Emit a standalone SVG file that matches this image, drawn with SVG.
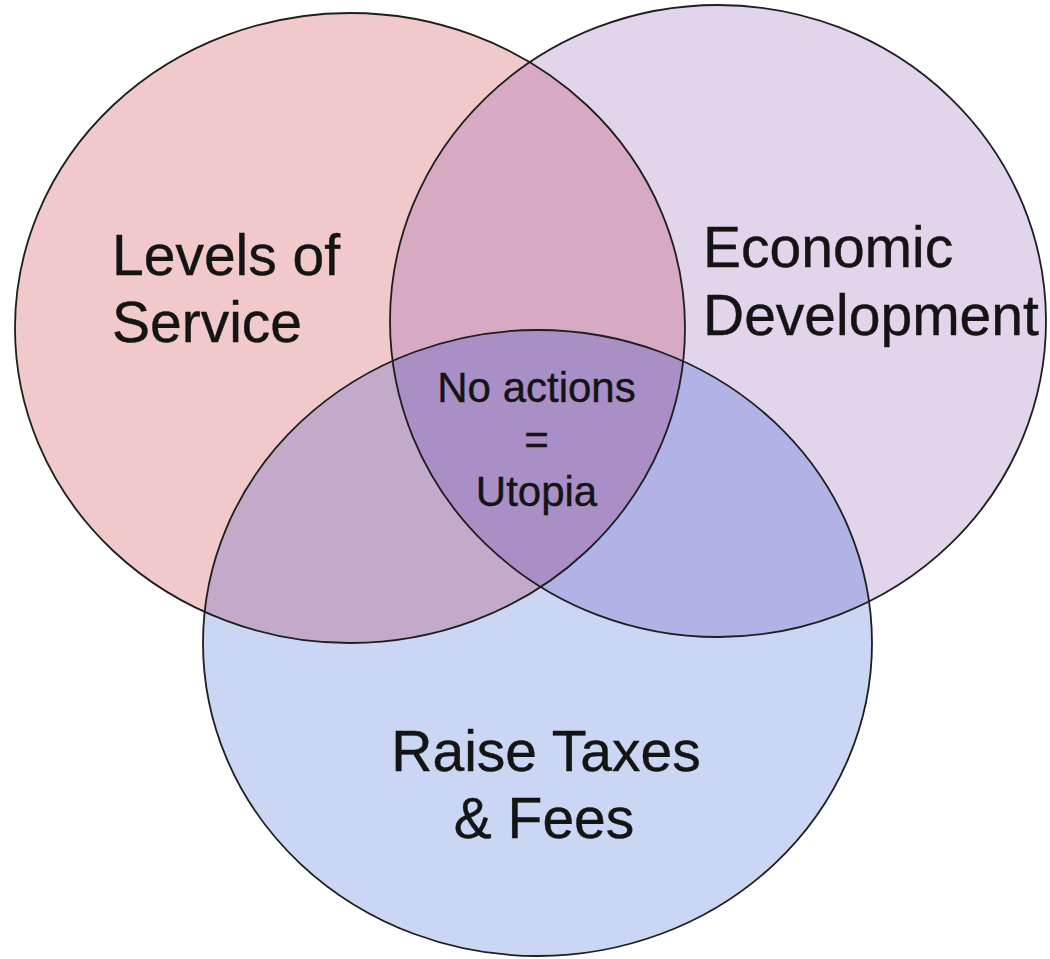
<svg xmlns="http://www.w3.org/2000/svg" width="1050" height="959" viewBox="0 0 1050 959">
  <style>
    .outline { fill: none; stroke: #1e1e1e; stroke-width: 1.8; }
    .lbl { font-family: "Liberation Sans", Arial, sans-serif; fill: #141414; stroke: #141414; stroke-width: 0.4; }
    .big { font-size: 57px; }
    .small { font-size: 42px; text-anchor: middle; }
  </style>
  <defs>
    <ellipse id="eRed" cx="350" cy="328" rx="335" ry="315"/>
    <ellipse id="ePurple" cx="718" cy="321" rx="328" ry="316"/>
    <ellipse id="eBlue" cx="537.5" cy="643" rx="334.5" ry="313"/>
    <clipPath id="cRed"><use href="#eRed"/></clipPath>
    <clipPath id="cPurple"><use href="#ePurple"/></clipPath>
  </defs>
  <rect width="1050" height="959" fill="#ffffff"/>
  <g id="fills">
    <use href="#eRed" fill="#f2c9cb"/>
    <use href="#ePurple" fill="#e1d4eb"/>
    <use href="#eBlue" fill="#cad6f4"/>
    <use href="#ePurple" fill="#d7a9c3" clip-path="url(#cRed)"/>
    <use href="#eBlue" fill="#c3aacb" clip-path="url(#cRed)"/>
    <use href="#eBlue" fill="#b1b2e6" clip-path="url(#cPurple)"/>
    <g clip-path="url(#cRed)">
      <use href="#eBlue" fill="#a98fc6" clip-path="url(#cPurple)"/>
    </g>
  </g>
  <g id="levels-of-service">
    <use href="#eRed" class="outline"/>
    <text class="lbl big" x="112" y="275">Levels of</text>
    <text class="lbl big" x="112" y="342">Service</text>
  </g>
  <g id="economic-development">
    <use href="#ePurple" class="outline"/>
    <text class="lbl big" x="703" y="267">Economic</text>
    <text class="lbl big" x="703" y="335">Development</text>
  </g>
  <g id="raise-taxes-fees">
    <use href="#eBlue" class="outline"/>
    <text class="lbl big" x="546" y="771" text-anchor="middle">Raise Taxes</text>
    <text class="lbl big" x="544" y="838" text-anchor="middle">&amp; Fees</text>
  </g>
  <g id="utopia">
    <text class="lbl small" x="536.5" y="402">No actions</text>
    <text class="lbl small" x="536.5" y="454">=</text>
    <text class="lbl small" x="536.5" y="506">Utopia</text>
  </g>
  <g id="connectors"/>
</svg>
